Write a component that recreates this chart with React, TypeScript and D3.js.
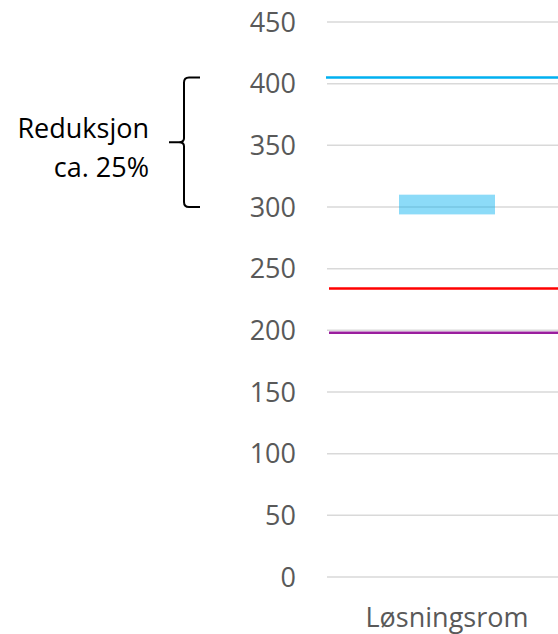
import * as d3 from "d3";

const categories = ["Løsningsrom"];
const yTicks = [0, 50, 100, 150, 200, 250, 300, 350, 400, 450];
const rangeLow = [294];
const rangeHigh = [310];
const refValues = [405, 234, 198];
const refColors = ["#00B0F0", "#FF0000", "#9A1E9E"];
const braceFrom = 405;
const braceTo = 300;
const noteLines = ["Reduksjon", "ca. 25%"];

const W = 558;
const H = 634;
const font = "'Open Sans', sans-serif";

export default function App() {
  const y = d3.scaleLinear().domain([0, 450]).range([577, 22]);
  const x = d3.scaleBand().domain(categories).range([327, 567]);
  const [x0, x1] = x.range();

  const bTop = y(braceFrom);
  const bBot = y(braceTo);
  const bMid = (bTop + bBot) / 2;
  const bx = 184;
  const bracePath = [
    `M200,${bTop}`,
    `L189,${bTop}`,
    `Q${bx},${bTop} ${bx},${bTop + 5}`,
    `L${bx},${bMid - 4}`,
    `Q${bx},${bMid} ${bx - 5},${bMid}`,
    `L169,${bMid}`,
    `M${bx - 5},${bMid}`,
    `Q${bx},${bMid} ${bx},${bMid + 4}`,
    `L${bx},${bBot - 5}`,
    `Q${bx},${bBot} 189,${bBot}`,
    `L200,${bBot}`,
  ].join(" ");

  return (
    <div style={{ position: "absolute", left: 0, top: 0 }}>
      <svg width={W} height={H} style={{ display: "block" }} fontFamily={font}>
        <rect width={W} height={H} fill="#fff" />
        {yTicks.map((t) => (
          <g key={t}>
            <line x1={x0} x2={x1} y1={y(t)} y2={y(t)} stroke="#d9d9d9" strokeWidth={1.5} />
            <text x={296} y={y(t)} dy="0.36em" textAnchor="end" fontSize={27} fill="#595959">
              {t}
            </text>
          </g>
        ))}
        {categories.map((c, i) => {
          const bw = x.bandwidth() * 0.4;
          const cx = (x(c) ?? 0) + x.bandwidth() / 2;
          return (
            <g key={c}>
              <rect
                x={cx - bw / 2}
                width={bw}
                y={y(rangeHigh[i])}
                height={y(rangeLow[i]) - y(rangeHigh[i])}
                fill="#00B0F0"
                fillOpacity={0.45}
              />
              <text x={cx} y={627} textAnchor="middle" fontSize={27} fill="#595959">
                {c}
              </text>
            </g>
          );
        })}
        {refValues.map((v, i) => (
          <line
            key={i}
            x1={i === 0 ? x0 - 1 : x0 + 2}
            x2={x1}
            y1={y(v)}
            y2={y(v)}
            stroke={refColors[i]}
            strokeWidth={2.5}
          />
        ))}
        <path d={bracePath} fill="none" stroke="#000" strokeWidth={2} />
        {noteLines.map((t, i) => (
          <text key={t} x={149} y={138 + i * 39} textAnchor="end" fontSize={27} fill="#000">
            {t}
          </text>
        ))}
      </svg>
    </div>
  );
}
